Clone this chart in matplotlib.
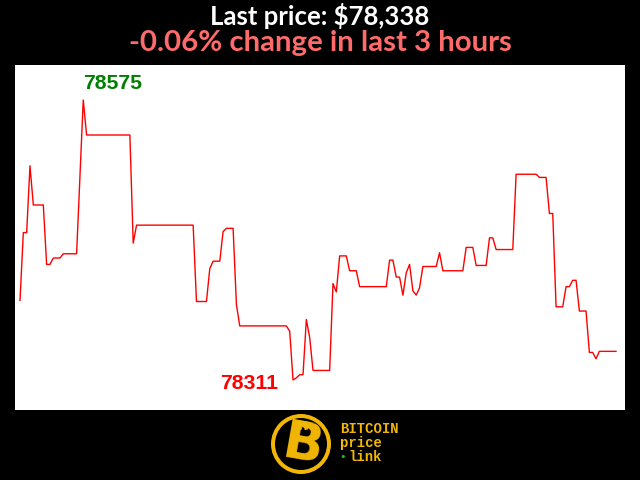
import matplotlib
matplotlib.use("Agg")
import matplotlib.pyplot as plt
from matplotlib.patches import Circle

# minute index (turning points of the last 3 hours) and price
minutes = [0, 1, 2, 3, 4, 7, 8, 9, 10, 12, 13, 17, 19, 20, 33, 34, 35, 52, 53, 56,
           57, 58, 60, 61, 62, 64, 65, 66, 80, 81, 82, 83, 84, 85, 86, 87, 88, 93,
           94, 95, 96, 98, 99, 101, 102, 110, 111, 112, 113, 114, 115, 116, 117,
           118, 119, 120, 121, 125, 126, 127, 133, 134, 136, 137, 140, 141, 142,
           143, 148, 149, 155, 156, 158, 159, 160, 161, 163, 164, 165, 166, 167,
           168, 170, 171, 172, 173, 174, 179]
prices = [78386, 78450, 78450, 78513, 78476, 78476, 78420, 78420, 78426, 78426,
          78430, 78430, 78575, 78542, 78542, 78440, 78457, 78457, 78385, 78385,
          78416, 78423, 78423, 78451, 78454, 78454, 78382, 78362, 78362, 78357,
          78311, 78313, 78316, 78316, 78368, 78351, 78320, 78320, 78402, 78394,
          78428, 78428, 78414, 78414, 78399, 78399, 78424, 78424, 78408, 78408,
          78391, 78412, 78420, 78395, 78391, 78398, 78418, 78418, 78431, 78414,
          78414, 78436, 78436, 78419, 78419, 78445, 78445, 78434, 78434, 78505,
          78505, 78502, 78502, 78468, 78468, 78380, 78380, 78399, 78399, 78405,
          78405, 78376, 78376, 78337, 78337, 78331, 78338, 78338]

title_price = "Last price: $78,338"
title_change = "-0.06% change in last 3 hours"

gold = '#f2b705'

fig = plt.figure(figsize=(6.4, 4.8), dpi=100, facecolor='black')

# titles
fig.text(0.5, 1 - 16 / 480, title_price, ha='center', va='center',
         color='white', fontsize=18.5, fontweight='bold', family='Lato')
fig.text(0.5, 1 - 43 / 480, title_change, ha='center', va='center',
         color='#ff6b6b', fontsize=21.2, fontweight='bold', family='Lato')

# price chart
ax = fig.add_axes([15 / 640, 70 / 480, 610 / 640, 345 / 480])
ax.set_facecolor('white')
ax.plot(minutes, prices, color='red', lw=1)
ax.set_xlim(-1.5, 181.7)
ax.set_ylim(78282.7, 78608)
ax.set_xticks([])
ax.set_yticks([])
for s in ax.spines.values():
    s.set_visible(False)

# max / min labels
i_max = prices.index(max(prices))
i_min = prices.index(min(prices))
ax.annotate(str(max(prices)), (minutes[i_max], prices[i_max]),
            textcoords='offset pixels', xytext=(0, 16), ha='left', va='center',
            color='green', fontsize=15.3, fontweight='bold', family='Liberation Sans')
ax.annotate(str(min(prices)), (minutes[i_min], prices[i_min]),
            textcoords='offset pixels', xytext=(-15, -4), ha='right', va='center',
            color='red', fontsize=15.3, fontweight='bold', family='Liberation Sans')

# logo
lg = fig.add_axes([265 / 640, 0, 75 / 640, 70 / 480])
lg.set_xlim(0, 75)
lg.set_ylim(0, 70)
lg.axis('off')
lg.add_patch(Circle((36, 36), 30, facecolor=gold, edgecolor='none'))
lg.add_patch(Circle((36, 36), 26, facecolor='black', edgecolor='none'))
lg.text(37, 35, 'B', ha='center', va='center', color=gold, fontsize=38,
        fontweight='bold', family='DejaVu Sans', rotation=-10)
lg.plot([27, 33], [45, 24], color='black', lw=2)
lg.plot([34, 35], [57, 52], color=gold, lw=2.5)
lg.plot([40, 41], [57, 52], color=gold, lw=2.5)

fig.text(340 / 640, 1 - 429 / 480, 'BITCOIN', ha='left', va='center', color=gold,
         fontsize=10, fontweight='bold', family='Liberation Mono')
fig.text(340 / 640, 1 - 443 / 480, 'price', ha='left', va='center', color=gold,
         fontsize=10, fontweight='bold', family='Liberation Mono')
fig.text(348 / 640, 1 - 457 / 480, 'link', ha='left', va='center', color=gold,
         fontsize=10, fontweight='bold', family='Liberation Mono')
fig.text(343 / 640, 1 - 457 / 480, '\u2022', ha='center', va='center', color='#22bb22',
         fontsize=8, family='DejaVu Sans')

fig.savefig('out.png', dpi=100, facecolor='black')
